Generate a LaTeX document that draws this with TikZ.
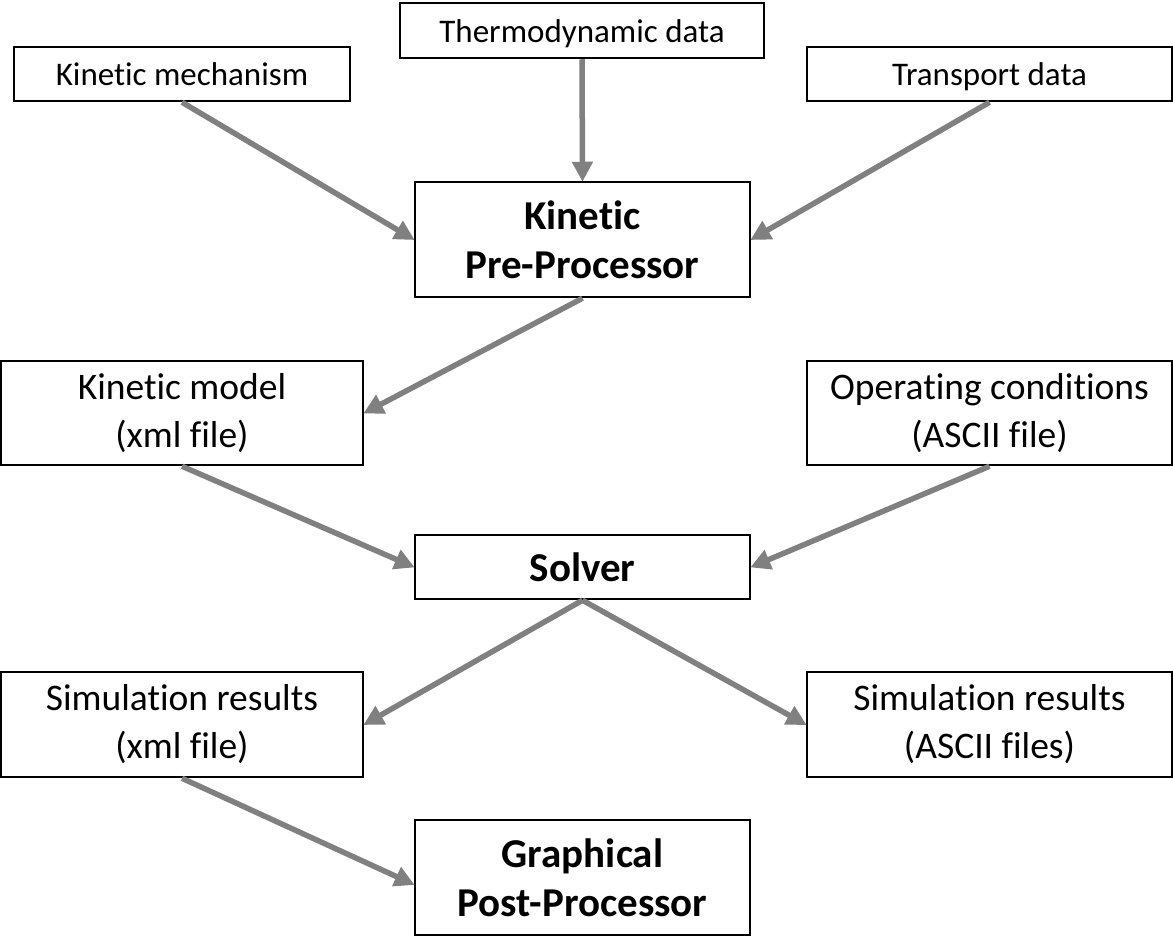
\documentclass[tikz,border=0pt]{standalone}
\usepackage{fontspec}
\setmainfont{Carlito}[Ligatures=NoCommon]
\usetikzlibrary{arrows.meta}
\begin{document}
\begin{tikzpicture}[x=1pt,y=-1pt,
  box/.style={draw=black,line width=2.5pt,inner sep=0pt,align=center,fill=white},
  small/.style={font=\fontsize{33}{38}\selectfont,text height=24pt,text depth=0pt},
  big/.style={font=\fontsize{37.5}{48}\selectfont},
  bold/.style={font=\fontsize{41}{49}\selectfont\bfseries},
  conn/.style={draw=black!50,line width=5.5pt,-{Triangle[length=20pt,width=20pt]},shorten >=-1pt}]
\useasboundingbox (0,0) rectangle (1173,952);
\node[box,small,minimum width=364,minimum height=55] (thermo) at (582,30.5) {Thermodynamic data};
\node[box,small,minimum width=336,minimum height=54] (kmech) at (182,74) {Kinetic mechanism};
\node[box,small,minimum width=365,minimum height=54] (trans) at (989.5,74) {Transport data};
\node[box,bold,minimum width=335,minimum height=115] (kpp) at (582.5,239.5) {Kinetic\\Pre-Processor};
\node[box,big,minimum width=362,minimum height=104] (kmod) at (182,413) {Kinetic model\\(xml file)};
\node[box,big,minimum width=365,minimum height=104] (opc) at (989.5,413) {Operating conditions\\(ASCII file)};
\node[box,bold,minimum width=335,minimum height=64] (solver) at (582.5,567) {Solver};
\node[box,big,minimum width=362,minimum height=105] (simx) at (182,724.5) {Simulation results\\(xml file)};
\node[box,big,minimum width=365,minimum height=105] (sima) at (989.5,724.5) {Simulation results\\(ASCII files)};
\node[box,bold,minimum width=335,minimum height=115] (gpp) at (582.5,877.5) {Graphical\\Post-Processor};
\draw[conn] (kmech.south) -- (kpp.west);
\draw[conn] (thermo.south) -- (kpp.north);
\draw[conn] (trans.south) -- (kpp.east);
\draw[conn] (kpp.south) -- (kmod.east);
\draw[conn] (kmod.south) -- (solver.west);
\draw[conn] (opc.south) -- (solver.east);
\draw[conn] (solver.south) -- (simx.east);
\draw[conn] (solver.south) -- (sima.west);
\draw[conn] (simx.south) -- ([yshift=-7pt]gpp.west);
\end{tikzpicture}
\end{document}
